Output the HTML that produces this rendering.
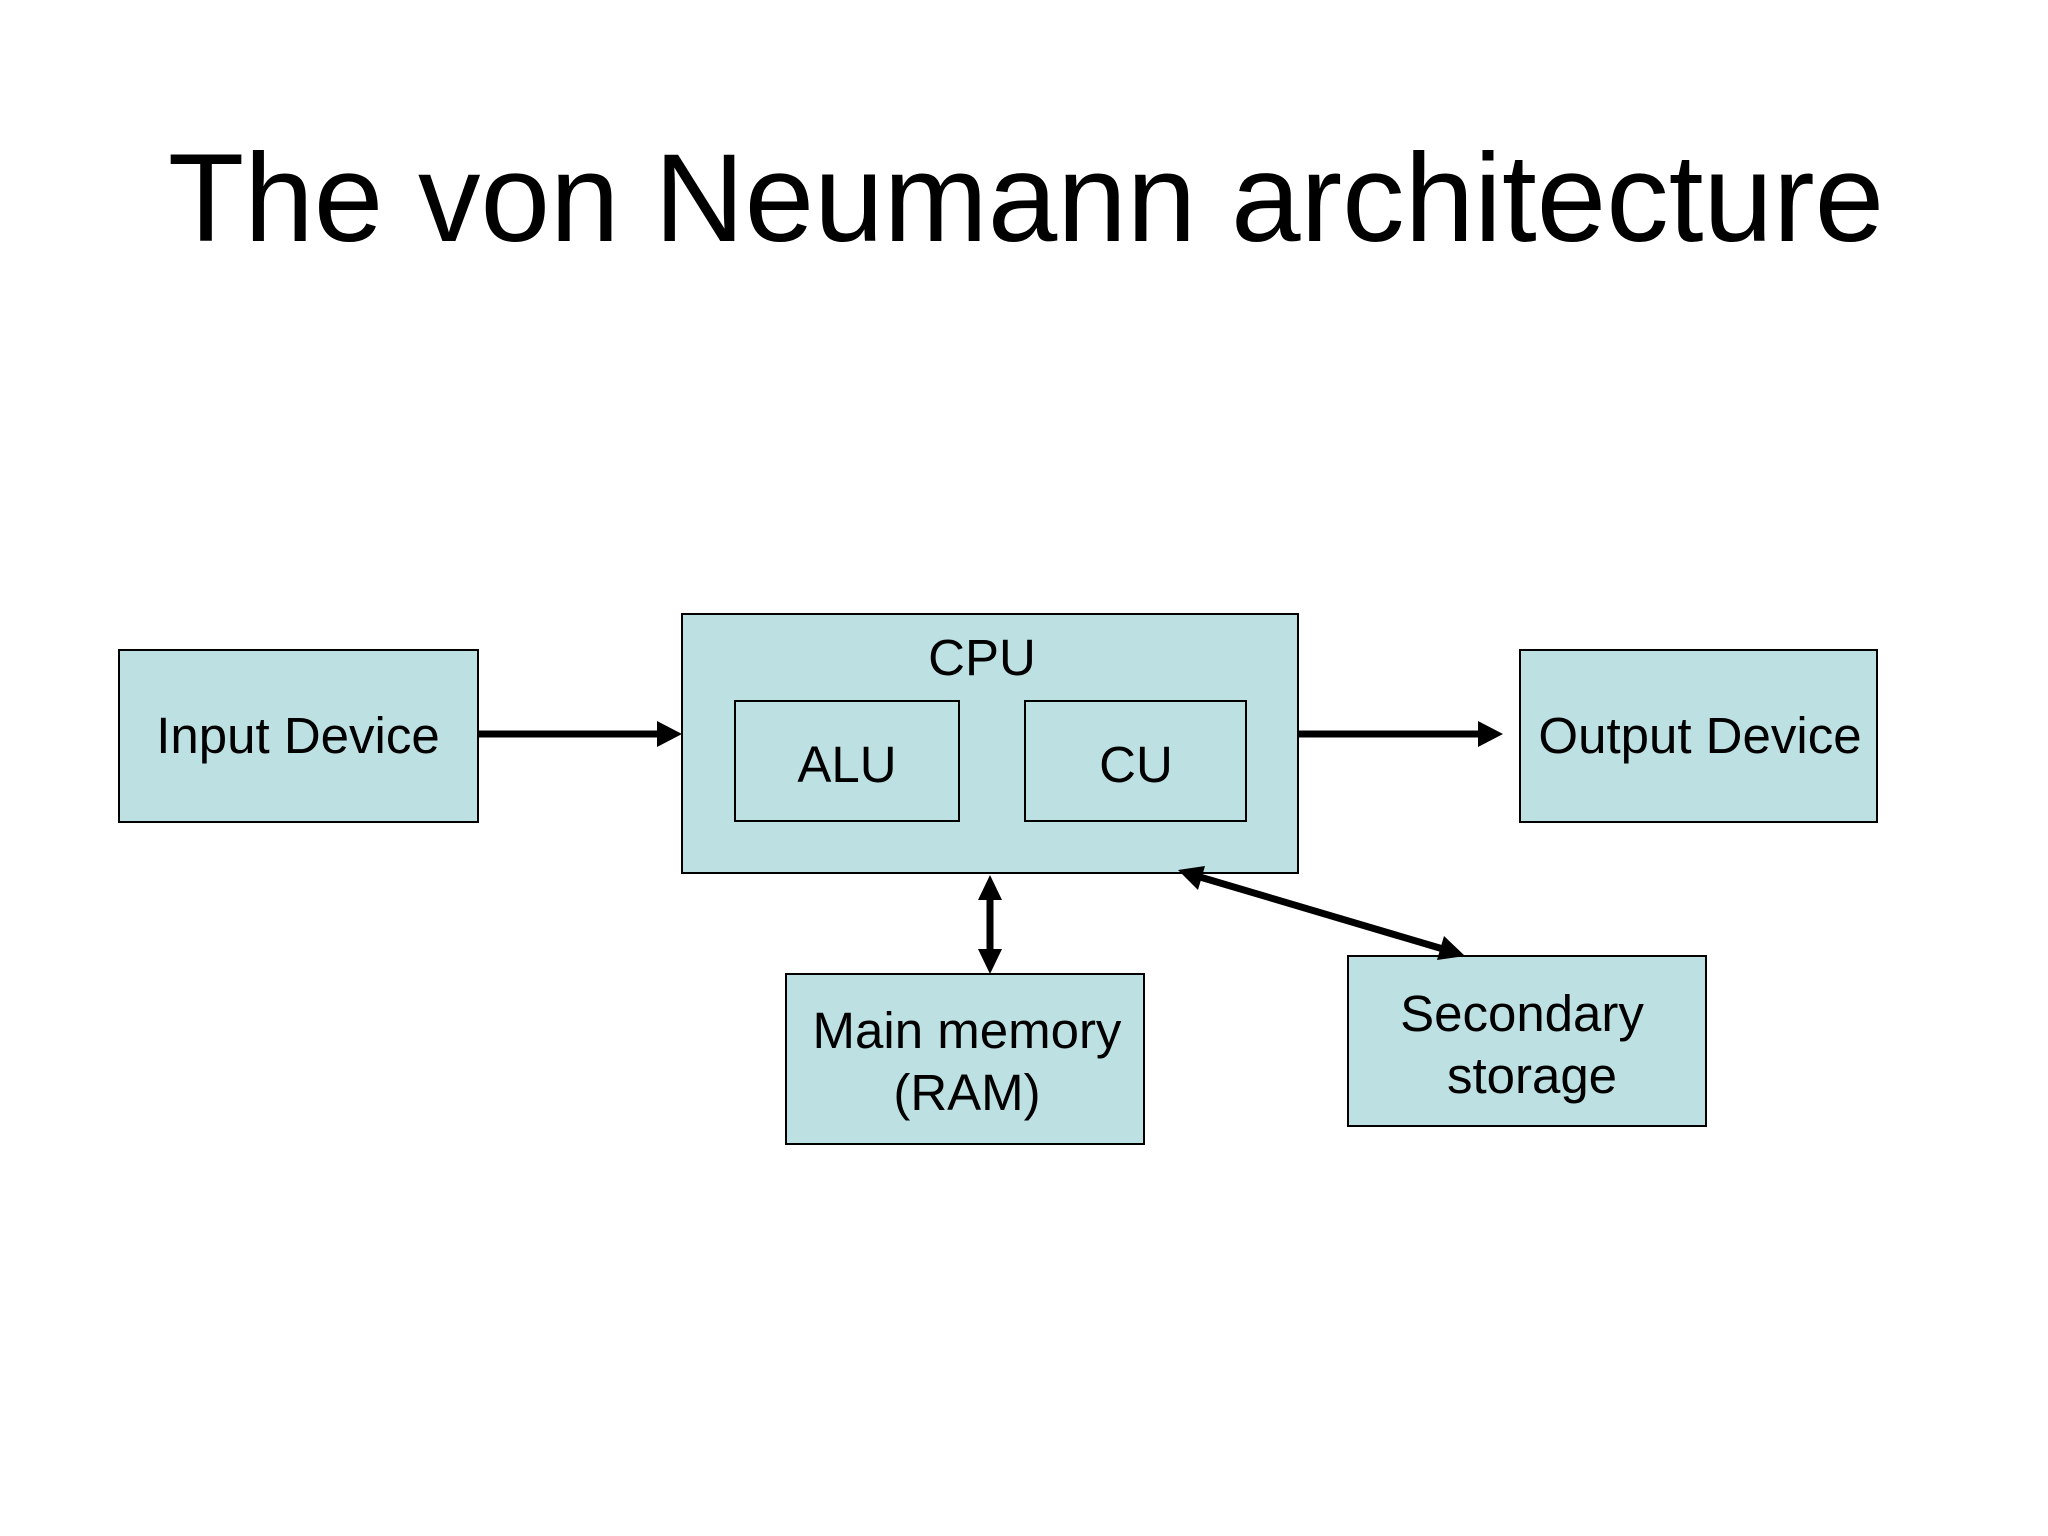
<!DOCTYPE html>
<html><head><meta charset="utf-8"><style>
html,body{margin:0;padding:0;background:#fff;}
body{width:2048px;height:1536px;position:relative;overflow:hidden;font-family:"Liberation Sans",sans-serif;}
</style></head><body>
<svg width="2048" height="1536" xmlns="http://www.w3.org/2000/svg" style="position:absolute;left:0;top:0">
<text x="1026" y="241" font-family="Liberation Sans, sans-serif" font-size="125" text-anchor="middle" fill="#000">The von Neumann architecture</text>
<g fill="#bde0e2" stroke="#000" stroke-width="2">
<rect x="119" y="650" width="359" height="172"/>
<rect x="682" y="614" width="616" height="259"/>
<rect x="735" y="701" width="224" height="120"/>
<rect x="1025" y="701" width="221" height="120"/>
<rect x="1520" y="650" width="357" height="172"/>
<rect x="786" y="974" width="358" height="170"/>
<rect x="1348" y="956" width="358" height="170"/>
</g>
<g font-family="Liberation Sans, sans-serif" font-size="51" text-anchor="middle" fill="#000">
<text x="298" y="753">Input Device</text>
<text x="982" y="675">CPU</text>
<text x="847" y="782">ALU</text>
<text x="1136" y="782">CU</text>
<text x="1700" y="753">Output Device</text>
<text x="967" y="1048">Main memory</text>
<text x="967" y="1110">(RAM)</text>
<text x="1522" y="1031">Secondary</text>
<text x="1532" y="1093">storage</text>
</g>
<g stroke="#000" stroke-width="7" fill="none">
<line x1="478" y1="734" x2="660" y2="734"/>
<line x1="1298" y1="734" x2="1480" y2="734"/>
<line x1="990" y1="897" x2="990" y2="952"/>
<line x1="1200" y1="877" x2="1443" y2="949"/>
</g>
<g fill="#000">
<polygon points="682,734 657,721 657,747"/>
<polygon points="1503,734 1478,721 1478,747"/>
<polygon points="990,875 978,900 1002,900"/>
<polygon points="990,974 978,949 1002,949"/>
<polygon points="1178,870 1205,866 1198,890"/>
<polygon points="1465,956 1437,960 1444,936"/>
</g>
</svg>
</body></html>
